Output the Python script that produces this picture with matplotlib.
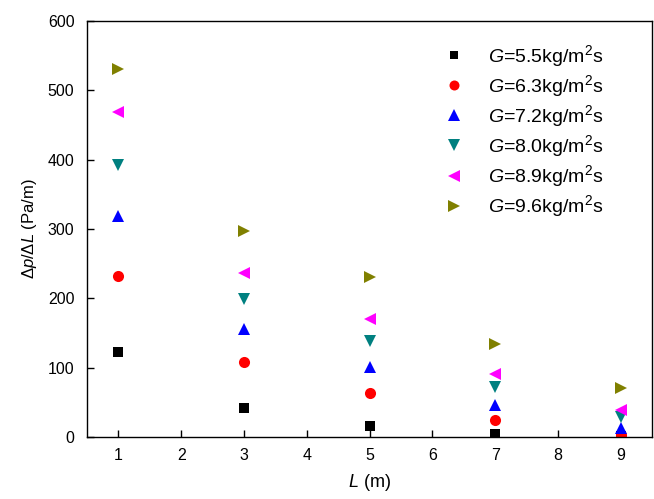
import numpy as np
import matplotlib
matplotlib.use('Agg')
import matplotlib.pyplot as plt

plt.rcParams['font.family'] = ['Liberation Sans', 'DejaVu Sans']
plt.rcParams['mathtext.fontset'] = 'custom'
plt.rcParams['mathtext.rm'] = 'Liberation Sans'
plt.rcParams['mathtext.it'] = 'Liberation Sans:italic'

# data
L = [1, 3, 5, 7, 9]
g_labels = ['5.5', '6.3', '7.2', '8.0', '8.9', '9.6']
dp_55 = [123, 42, 16, 4, 1]
dp_63 = [232, 108, 63, 25, 3]
dp_72 = [319, 156, 101, 46, 13]
dp_80 = [392, 199, 138, 72, 29]
dp_89 = [469, 237, 171, 91, 39]
dp_96 = [531, 297, 231, 134, 71]

series = [dp_55, dp_63, dp_72, dp_80, dp_89, dp_96]
markers = ['s', 'o', '^', 'v', '<', '>']
msizes = [7, 8, 9, 9, 9, 9]
colors = ['black', 'red', 'blue', '#008080', 'magenta', '#808000']

fig = plt.figure(figsize=(6.54, 4.99), dpi=100)
ax = fig.add_axes([0.133, 0.124, 0.864, 0.834])

for vals, m, ms, c, g in zip(series, markers, msizes, colors, g_labels):
    ax.plot(L, vals, linestyle='none', marker=m, color=c, markersize=ms,
            markeredgewidth=0, label='$G$=' + g + 'kg/m$^2$s')

ax.set_xlim(0.5, 9.5)
ax.set_ylim(0, 600)
ax.set_xticks(range(1, 10))
ax.set_yticks(range(0, 601, 100))
ax.tick_params(direction='in', labelsize=11.5, length=5, width=1)
ax.tick_params(axis='y', pad=9)
ax.tick_params(axis='x', pad=8)
for s in ax.spines.values():
    s.set_linewidth(1.0)

ax.set_xlabel('$L$ (m)', fontsize=13, labelpad=6)
ax.set_ylabel(r'$\Delta p/\Delta L$ (Pa/m)', fontsize=12, labelpad=6)

ax.legend(loc='upper right', bbox_to_anchor=(0.945, 0.99), frameon=False,
          fontsize=14, handlelength=2.0, handletextpad=0.75,
          labelspacing=0.22, markerscale=0.9)

fig.savefig('out.png', dpi=100)
